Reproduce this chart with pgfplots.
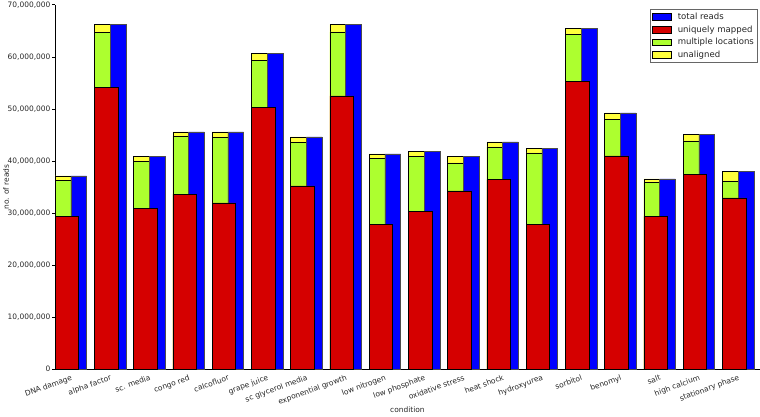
\documentclass[border=0pt]{standalone}
\usepackage{fontspec}
\setmainfont{DejaVu Sans}
\usepackage{pgfplots}
\usepackage{pgfplotstable}
\pgfplotsset{compat=1.18}
\definecolor{cblue}{RGB}{0,0,255}
\definecolor{cred}{RGB}{213,0,0}
\definecolor{cgreen}{RGB}{173,255,47}
\definecolor{cyellow}{RGB}{255,255,60}
% x  unique  mapped(unique+multiple)  total
\pgfplotstableread{
x  unique    mapped    total
0  29400000  36250000  37100000
1  54100000  64700000  66200000
2  30800000  39950000  40850000
3  33600000  44700000  45570000
4  31950000  44550000  45570000
5  50250000  59300000  60600000
6  35200000  43500000  44600000
7  52500000  64800000  66200000
8  27850000  40450000  41350000
9  30350000  40850000  41750000
10 34250000  39600000  40900000
11 36400000  42700000  43650000
12 27800000  41550000  42400000
13 55200000  64250000  65400000
14 40950000  47950000  49200000
15 29350000  35800000  36550000
16 37400000  43850000  45070000
17 32900000  36170000  37970000
}\reads
\begin{document}
\begin{tikzpicture}
\begin{axis}[
  scale only axis,
  width=705bp, height=364.6bp,
  xmin=0, xmax=17.95,
  ymin=0, ymax=70000000,
  axis x line*=bottom, axis y line*=left,
  axis line style={-, black, line width=0.6pt},
  tick align=outside,
  ytick={0,10000000,20000000,30000000,40000000,50000000,60000000,70000000},
  yticklabels={0,{10,000,000},{20,000,000},{30,000,000},{40,000,000},{50,000,000},{60,000,000},{70,000,000}},
  scaled y ticks=false,
  ytick pos=left,
  major tick length=3bp,
  ytick style={black, line width=0.5pt},
  xtick={0.4,1.4,2.4,3.4,4.4,5.4,6.4,7.4,8.4,9.4,10.4,11.4,12.4,13.4,14.4,15.4,16.4,17.4},
  xticklabels={DNA damage,alpha factor,sc. media,congo red,calcofluor,grape juice,sc glycerol media,exponential growth,low nitrogen,low phosphate,oxidative stress,heat shock,hydroxyurea,sorbitol,benomyl,salt,high calcium,stationary phase},
  xtick style={draw=none},
  x tick label style={rotate=20, anchor=north east, inner sep=1bp, yshift=-1bp},
  y tick label style={inner sep=1.5bp},
  ticklabel style={font=\fontsize{7.5}{9}\selectfont, text=black!85},
  /pgf/number format/assume math mode=true,
  xlabel={condition},
  ylabel={no. of reads},
  every axis x label/.style={at={(axis description cs:0.5,-0.1125)}, anchor=center, font=\fontsize{7.5}{9}\selectfont, text=black!85},
  every axis y label/.style={at={(axis description cs:-0.0695,0.5)}, rotate=90, anchor=center, font=\fontsize{7.5}{9}\selectfont, text=black!85},
  legend style={at={(axis description cs:1,1)}, anchor=north east, xshift=-2bp, yshift=-4.5bp,
    draw=black!60, line width=0.6pt, font=\fontsize{8.6}{10}\selectfont, text=black!85,
    inner xsep=1.5bp, inner ysep=1.5bp, row sep=0.6bp},
  legend cell align=left,
  legend image code/.code={\draw[#1, draw=black, line width=0.5pt] (0bp,-3.3bp) rectangle (19bp,3.3bp); \path (23bp,0bp);},
]
\addlegendimage{fill=cblue}
\addlegendentry{total reads}
\addlegendimage{fill=cred}
\addlegendentry{uniquely mapped}
\addlegendimage{fill=cgreen}
\addlegendentry{multiple locations}
\addlegendimage{fill=cyellow}
\addlegendentry{unaligned}
\addplot[forget plot, ybar, bar width=0.4, bar shift=0.2, fill=cyellow, draw=black, line width=0.5pt] table[x=x, y=total] {\reads};
\addplot[forget plot, ybar, bar width=0.4, bar shift=0.2, fill=cgreen, draw=black, line width=0.5pt] table[x=x, y=mapped] {\reads};
\addplot[forget plot, ybar, bar width=0.4, bar shift=0.6, fill=cblue, draw=black!70, line width=0.5pt] table[x=x, y=total] {\reads};
\addplot[forget plot, ybar, bar width=0.6, bar shift=0.3, fill=cred, draw=black, line width=0.5pt] table[x=x, y=unique] {\reads};
\end{axis}
\end{tikzpicture}
\end{document}
